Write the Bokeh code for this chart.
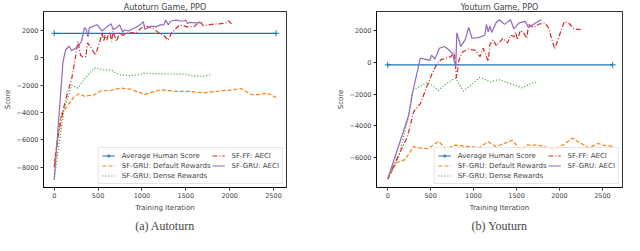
from bokeh.plotting import figure
from bokeh.layouts import row
from bokeh.models import Range1d, FixedTicker, Legend, LegendItem, Title
from bokeh.embed import file_html
from bokeh.resources import INLINE

# ---------------- (a) Autoturn ----------------
a_title = "Autoturn Game, PPO"
a_caption = "(a) Autoturn"
a_human_x = [0, 2530]
a_human_y = [1800, 1800]
a_default_x = [0, 80, 130, 185, 220, 275, 345, 455, 530, 670, 760, 870, 1030, 1210, 1390, 1540, 1700, 1840, 2000, 2130, 2250, 2330, 2430, 2530]
a_default_y = [-7600, -4100, -3700, -3200, -2900, -2630, -2800, -2700, -2420, -2360, -2200, -2290, -2670, -2335, -2445, -2445, -2560, -2445, -2355, -2240, -2680, -2680, -2570, -2895]
a_dense_x = [0, 110, 200, 270, 345, 455, 500, 550, 650, 740, 850, 950, 1030, 1150, 1250, 1350, 1450, 1500, 1600, 1700, 1780]
a_dense_y = [-8900, -3800, -2000, -2200, -1550, -750, -760, -880, -880, -1230, -1300, -1250, -1110, -1165, -1170, -1180, -1180, -1210, -1330, -1345, -1230]
a_ff_x = [0, 50, 110, 150, 200, 230, 250, 270, 300, 320, 360, 380, 420, 470, 520, 545, 565, 580, 600, 620, 635, 655, 670, 710, 745, 780, 850, 930, 1030, 1070, 1140, 1200, 1250, 1300, 1340, 1430, 1520, 1600, 1660, 1700, 1770, 1830, 1880, 1950, 1990, 2030]
a_ff_y = [-8000, -5500, -3600, -2600, -1500, -400, 400, 1200, 200, 100, 100, 1100, 750, 200, 1200, 1850, 1200, 1650, 1300, 1750, 1850, 1200, 1950, 1200, 1850, 1650, 1850, 1800, 2400, 2270, 2100, 1800, 1650, 1300, 1850, 2420, 2270, 2300, 2700, 2350, 2440, 2480, 2490, 2540, 2710, 2420]
a_gru_x = [0, 100, 130, 170, 200, 275, 310, 330, 345, 365, 385, 400, 455, 490, 545, 600, 650, 670, 710, 745, 780, 800, 850, 920, 980, 1015, 1035, 1100, 1140, 1160, 1210, 1250, 1270, 1300, 1330, 1390, 1430, 1480, 1500, 1520, 1540, 1575, 1620, 1680]
a_gru_y = [-8900, -300, 600, 850, 520, 850, 1200, 1750, 2200, 2090, 1530, 2200, 2350, 2420, 1970, 2270, 2490, 2090, 2200, 2420, 1900, 2040, 1970, 2200, 2420, 2650, 2090, 2300, 2310, 2270, 2420, 2420, 2760, 2420, 2700, 2760, 2700, 2715, 2760, 2490, 2600, 2580, 2560, 2560]
a_yticks = [-8000, -6000, -4000, -2000, 0, 2000]
a_ytick_labels = ["\u22128000", "\u22126000", "\u22124000", "\u22122000", "0", "2000"]

# ---------------- (b) Youturn ----------------
b_title = "Youturn Game, PPO"
b_caption = "(b) Youturn"
b_human_x = [0, 2620]
b_human_y = [-150, -150]
b_default_x = [0, 100, 200, 300, 390, 470, 590, 680, 780, 900, 980, 1060, 1170, 1260, 1360, 1450, 1550, 1620, 1740, 1830, 1940, 2055, 2150, 2230, 2340, 2450, 2540, 2620]
b_default_y = [-7370, -6340, -6150, -5330, -5420, -5460, -4990, -5480, -5230, -5300, -5330, -5400, -5015, -5330, -5115, -4920, -5560, -5230, -5230, -5330, -5520, -5170, -4780, -5050, -5405, -5130, -5270, -5300]
b_dense_x = [0, 130, 230, 290, 380, 470, 590, 680, 790, 880, 980, 1070, 1200, 1290, 1430, 1570, 1660, 1750]
b_dense_y = [-7370, -5950, -3700, -1770, -1480, -1250, -1770, -1340, -990, -1800, -1380, -950, -1225, -1080, -1340, -1615, -1340, -1225]
b_ff_x = [0, 110, 230, 300, 380, 450, 510, 570, 620, 680, 735, 775, 800, 830, 870, 940, 1020, 1075, 1110, 1170, 1190, 1230, 1265, 1340, 1395, 1430, 1470, 1490, 1510, 1545, 1580, 1620, 1640, 1700, 1755, 1830, 1870, 1945, 2000, 2055, 2110, 2170, 2245]
b_ff_y = [-7370, -6050, -4700, -3130, -2600, -1600, -800, -120, 175, 270, 370, 660, -990, 175, 660, 850, 760, 370, 900, 75, 1145, 1435, 1050, 1530, 1240, 1725, 1630, 1920, 1435, 2020, 1900, 1530, 2400, 2215, 2415, 2500, 2215, 850, 1725, 2580, 2480, 2115, 2075]
b_gru_x = [0, 245, 290, 380, 490, 510, 550, 600, 660, 700, 755, 792, 805, 850, 905, 943, 981, 1056, 1130, 1150, 1170, 1190, 1210, 1265, 1300, 1360, 1430, 1470, 1530, 1600, 1640, 1735, 1790]
b_gru_y = [-7370, -3325, -1900, 270, 135, 465, 210, 900, 1010, 850, 560, -315, 1880, 1000, 1480, 2215, 1530, 1570, 1725, 2410, 1940, 2300, 1900, 2545, 2700, 2410, 2700, 2120, 2500, 2600, 2215, 2545, 2700]
b_yticks = [-6000, -4000, -2000, 0, 2000]
b_ytick_labels = ["\u22126000", "\u22124000", "\u22122000", "0", "2000"]

xticks = [0, 500, 1000, 1500, 2000, 2500]
series_names = ["Average Human Score", "SF-GRU: Default Rewards", "SF-GRU: Dense Rewards", "SF-FF: AECI", "SF-GRU: AECI"]
colors = ["#1f77b4", "#ff7f0e", "#2ca02c", "#d62728", "#9467bd"]
dashes = ["solid", "4 2", "1 2", "5 2 1 2", "solid"]

FONT = "DejaVu Sans"


def panel(title, caption, human, default, dense, ff, gru, yticks, ylabels,
          xr, yr, b_left, b_right):
    p = figure(width=312, height=235, output_backend="svg", toolbar_location=None,
               x_range=Range1d(*xr), y_range=Range1d(*yr))
    p.min_border_left = b_left
    p.min_border_right = b_right
    p.min_border_top = 10
    p.min_border_bottom = 45
    p.border_fill_color = "white"
    p.outline_line_color = "black"
    p.outline_line_width = 0.8
    p.xgrid.visible = False
    p.ygrid.visible = False

    p.title.text = title
    p.title.align = "center"
    p.title.text_font = FONT
    p.title.text_font_size = "8px"
    p.title.text_font_style = "normal"
    p.title.standoff = 0
    p.title.offset = 0

    for ax in (p.xaxis[0], p.yaxis[0]):
        ax.major_label_text_font = FONT
        ax.major_label_text_font_size = "6.5px"
        ax.axis_label_text_font = FONT
        ax.axis_label_text_font_size = "7px"
        ax.axis_label_text_font_style = "normal"
        ax.major_tick_out = 3
        ax.major_tick_in = 0
        ax.minor_tick_out = 0
        ax.minor_tick_in = 0
        ax.axis_line_color = "black"
        ax.axis_line_width = 0.8
        ax.major_tick_line_width = 0.8
        ax.major_label_standoff = 2
        ax.axis_label_standoff = 3
    p.yaxis[0].axis_label_standoff = 2
    p.xaxis[0].ticker = FixedTicker(ticks=xticks)
    p.yaxis[0].ticker = FixedTicker(ticks=yticks)
    p.yaxis[0].major_label_overrides = {t: l for t, l in zip(yticks, ylabels)}
    p.xaxis[0].axis_label = "Training Iteration"
    p.yaxis[0].axis_label = "Score"

    lw = 1.2
    items = []
    r_h = p.line(human[0], human[1], color=colors[0], line_width=lw)
    r_hm = p.scatter(human[0], human[1], marker="cross", size=6, color=colors[0], line_width=1)
    items.append(LegendItem(label=series_names[0], renderers=[r_h, r_hm]))
    for i, d in enumerate([default, dense, ff, gru], start=1):
        r = p.line(d[0], d[1], color=colors[i], line_width=lw, line_dash=dashes[i])
        items.append(LegendItem(label=series_names[i], renderers=[r]))

    leg = Legend(items=items, location="bottom_right", ncols=2)
    leg.label_text_font = FONT
    leg.label_text_font_size = "7px"
    leg.glyph_width = 13
    leg.glyph_height = 9
    leg.label_height = 9
    leg.label_standoff = 7
    leg.spacing = 1
    leg.padding = 3
    leg.margin = 3
    leg.border_line_color = "#cccccc"
    leg.border_line_width = 0.8
    leg.background_fill_alpha = 0.8
    p.add_layout(leg)

    cap = Title(text=caption, align="center", text_font="Liberation Serif",
                text_font_size="12px", text_font_style="normal", standoff=5)
    p.add_layout(cap, "below")
    return p


pa = panel(a_title, a_caption, (a_human_x, a_human_y), (a_default_x, a_default_y),
           (a_dense_x, a_dense_y), (a_ff_x, a_ff_y), (a_gru_x, a_gru_y),
           a_yticks, a_ytick_labels, (-122, 2648), (-9480, 3394), 36, 26)
pb = panel(b_title, b_caption, (b_human_x, b_human_y), (b_default_x, b_default_y),
           (b_dense_x, b_dense_y), (b_ff_x, b_ff_y), (b_gru_x, b_gru_y),
           b_yticks, b_ytick_labels, (-131, 2734), (-7911, 3224), 64, 2)

layout = row(pa, pb)
open("out.html", "w").write(file_html(layout, INLINE))
